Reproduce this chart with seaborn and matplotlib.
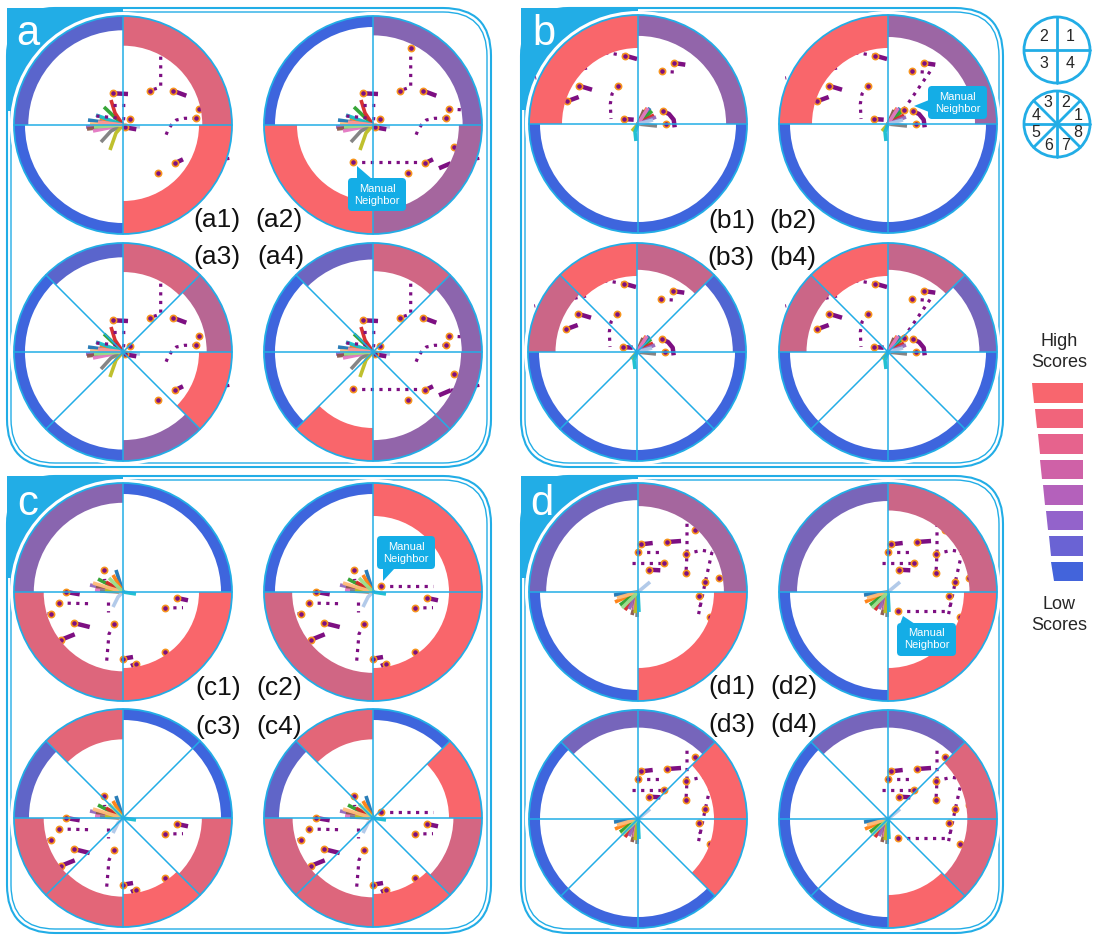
import numpy as np
import matplotlib
matplotlib.use("Agg")
import matplotlib.pyplot as plt
from matplotlib.patches import Wedge, Circle, FancyBboxPatch, Polygon, Rectangle
import seaborn as sns

sns.set_theme(style="white")
plt.rcParams["font.family"] = ["Liberation Sans", "DejaVu Sans"]

# ---------------------------------------------------------------- data
# sector scores (0 = low, 1 = high), counter-clockwise from east
scores_a = [[0.85, 0.15, 0.0, 1.0],
            [0.38, 0.0, 1.0, 0.55],
            [0.65, 0.82, 0.15, 0.0, 0.0, 0.02, 0.45, 1.0],
            [0.42, 0.78, 0.25, 0.0, 0.0, 1.0, 0.45, 0.45]]
scores_b = [[0.45, 1.0, 0.0, 0.0],
            [0.5, 1.0, 0.0, 0.0],
            [0.1, 0.72, 1.0, 0.75, 0.0, 0.0, 0.0, 0.0],
            [0.3, 0.72, 1.0, 0.75, 0.0, 0.0, 0.0, 0.0]]
scores_c = [[0.0, 0.4, 0.85, 1.0],
            [1.0, 0.0, 0.78, 1.0],
            [0.0, 0.0, 0.88, 0.18, 0.85, 0.88, 1.0, 0.87],
            [1.0, 0.0, 0.88, 0.18, 0.8, 0.85, 1.0, 0.8]]
scores_d = [[0.55, 0.28, 0.0, 1.0],
            [0.75, 0.32, 0.0, 1.0],
            [1.0, 0.3, 0.3, 0.0, 0.0, 0.0, 0.0, 1.0],
            [0.85, 0.3, 0.3, 0.0, 0.0, 0.0, 1.0, 0.85]]

# neighbour trajectories, offsets from the ego agent (x right, y down)
dotted_a = [[(37.7, -77), (37.7, -38), (26.7, -34.3)],
            [(76, -16), (92, -15), (110, -15)],
            [(72.7, -6.7), (61.7, -6.7), (53.3, -5), (48.3, 0), (45, 5), (41.7, 13.3)],
            [(-10, -20), (1.7, -20)],
            [(-26.7, -9), (7.3, -5.7)],
            [(77.7, 38.3), (106.7, 33.3)]]
solid_a = [[(50, -34.3), (63.3, -29.3)],
           [(51.7, 38.3), (60, 34.3)],
           [(-10, -31.7), (5, -31)],
           [(1.7, 2.3), (13.3, 4.3)],
           [(66, 43.3), (77.7, 38.3)]]
ends_a = [(37.7, -77), (26.7, -34.3), (50, -34.3), (76, -16), (72.7, -6.7), (51.7, 38.3),
          (35, 48.3), (-10, -31.7), (7.3, -5.7), (1.7, 2.3), (81, 21.7)]
manual_a = [(-19.7, 37.3), (49.3, 37.3)]

dotted_b = [[(-12.7, -68.3), (-29.3, -71), (-45, -70)],
            [(-51, -56), (-102.7, -46)],
            [(-20.3, -38.3), (-26, -30), (-27.7, -20), (-27, -5)],
            [(24, -52.7), (40.7, -51.7)]]
solid_b = [[(-12.7, -68.3), (-1, -65)],
           [(-59.3, -38.3), (-46, -34.3)],
           [(-71, -22.7), (-59.3, -27)],
           [(-14.3, -5), (-4.3, -4.3)],
           [(35.7, -61), (47.3, -59.3)],
           [(25, -12.7), (31, -10), (35.7, -4.3), (36.7, 3.3)]]
ends_b = [(-12.7, -68.3), (-59.3, -38.3), (-71, -22.7), (-20.3, -38.3), (-14.3, -5),
          (35.7, -61), (24, -52.7), (25, -12.7), (28.3, 0)]
manual_b = [(15.7, -14.3), (43.3, -54.3)]

dotted_c = [[(-19, -21.7), (-18.3, -11.7)],
            [(-64, 11), (-33.3, 11.7)],
            [(-72.3, 21.7), (-105, 21)],
            [(-9, 32.3), (-14, 42), (-16.7, 73.3)],
            [(-15, 10), (-15, 20)],
            [(41.7, 16), (60, 15.7)]]
solid_c = [[(-56.7, 0), (-43.3, 2.3)],
           [(-49.3, 31), (-33.3, 35)],
           [(-61.7, 47.7), (-48.3, 42.3)],
           [(0, 66.7), (10, 65)],
           [(13.3, 71.7), (8, 74)],
           [(54, 6), (65, 8.3)]]
ends_c = [(-19, -21.7), (-56.7, 0), (-64, 11), (-72.3, 21.7), (-49.3, 31), (-61.7, 47.7),
          (-9, 32.3), (0, 66.7), (13.3, 71.7), (41.7, 60), (54, 6), (41.7, 16)]
manual_c = [(8.3, -6), (60, -6)]

dotted_d = [[(49, -68.3), (49, -38.3), (48, -19.3)],
            [(0, -40), (20.7, -40)],
            [(-6, -29), (25.7, -29)],
            [(48, -38.3), (64, -41.7), (74, -40)],
            [(74, -40), (67.3, -10), (60, 25)],
            [(60.7, 4.3), (62.3, 15)]]
solid_d = [[(3.3, -47.7), (14.7, -49)],
           [(29, -50), (43, -51)],
           [(10.7, -22.3), (22.3, -21.7)]]
ends_d = [(3.3, -47.7), (29, -50), (48, -19.3), (57.3, -61.7), (0, -40), (25.7, -29),
          (10.7, -22.3), (48, -38.3), (67.3, -10), (60.7, 4.3), (81.3, -14.3), (71.7, 25)]
manual_d = [(10, 19.3), (60.7, 19.3)]

# predicted ego futures (polylines starting at the ego agent)
fan_a = [[(0, 0), (-35, -5)], [(0, 0), (-23, -7)], [(0, 0), (-19, -18)],
         [(0, 0), (-8, -12), (-12, -25)], [(0, 0), (-37, 2)], [(0, 0), (-36, 4)],
         [(0, 0), (-30, 6)], [(0, 0), (-12, 6), (-22, 17)],
         [(0, 0), (-7, 8), (-13, 25)], [(0, 0), (-27, -10)], [(0, 0), (17, 2)],
         [(0, 0), (-33, -1)], [(0, 0), (-29, 2)], [(0, 0), (-25, -3)]]
fan_b = [[(0, 0), (12, -16)], [(0, 0), (9, -16)], [(0, 0), (14, -13)], [(0, 0), (16, -9)],
         [(0, 0), (18, -7)], [(0, 0), (6, -14)], [(0, 0), (10, -16)], [(0, 0), (19, 2)],
         [(0, 0), (-6, 7)], [(0, 0), (-3, 8), (-2, 17)], [(0, 0), (15, -4)]]
fan_c = [[(0, 0), (-7, -22)], [(0, 0), (-10, -17)], [(0, 0), (-25, -13)], [(0, 0), (-17, -10)],
         [(0, 0), (-33, -7)], [(0, 0), (-27, -5)], [(0, 0), (-28, -2)], [(0, 0), (-23, -1)],
         [(0, 0), (-18, -2)], [(0, 0), (13, 2)], [(0, 0), (-5, 5), (-10, 15)],
         [(0, 0), (-30, -9)], [(0, 0), (-14, -14)]]
fan_d = [[(0, 0), (-24, 3)], [(0, 0), (-23, 10)], [(0, 0), (-18, 13)], [(0, 0), (-13, 18)],
         [(0, 0), (-9, 17)], [(0, 0), (-6, 23)], [(0, 0), (-4, 18)], [(0, 0), (-1, 25)],
         [(0, 0), (-3, 21)], [(0, 0), (1, 20)], [(0, 0), (12, -10)], [(0, 0), (-21, 6)],
         [(0, 0), (-16, 16)]]

panel_letters = ["a", "b", "c", "d"]
legend_levels = [1.0, 6 / 7, 5 / 7, 4 / 7, 3 / 7, 2 / 7, 1 / 7, 0.0]
quad_numbers = ["1", "2", "3", "4"]
oct_numbers = ["1", "2", "3", "4", "5", "6", "7", "8"]

# ---------------------------------------------------------------- style
HIGH = "#f9666b"
LOW = "#3e65dd"
CYAN = "#22ade6"
PURPLE = "#7d0f82"
ORANGE = "#f7941d"
CALLOUT = "#14ade6"
ramp = sns.blend_palette([LOW, HIGH], n_colors=101)
key_ramp = sns.blend_palette(["#4364db", "#8a63cf", "#c460b4", "#ec6386", "#f8666e"], n_colors=101)
fan_colors = sns.color_palette("tab10") + sns.color_palette("tab20")[1::2][:4]

R = 109.0


def score_color(s, pal=ramp):
    return pal[int(round(s * 100))]


fig = plt.figure(figsize=(10.99, 9.35), dpi=100)
ax = fig.add_axes([0, 0, 1, 1])
ax.set_xlim(0, 1099)
ax.set_ylim(935, 0)
ax.axis("off")


def draw_callout(box, apex, base):
    x0, y0, x1, y1 = box
    ax.add_patch(FancyBboxPatch((x0, y0), x1 - x0, y1 - y0,
                                boxstyle="round,pad=0,rounding_size=4",
                                fc=CALLOUT, ec="none", zorder=8))
    ax.add_patch(Polygon([base[0], apex, base[1]], closed=True, fc=CALLOUT, ec="none", zorder=8))
    ax.text((x0 + x1) / 2, (y0 + y1) / 2, "Manual\nNeighbor", color="white", fontsize=8,
            ha="center", va="center", linespacing=1.25, zorder=9)


def draw_scene(cx, cy, scores, dotted, solid, ends, fan, manual=None):
    ax.add_patch(Circle((cx, cy), R + 4, fc="white", ec="none", zorder=2))
    # predicted ego futures
    for k, line in enumerate(fan):
        arr = np.array(line)
        ax.plot(cx + arr[:, 0], cy + arr[:, 1], color=fan_colors[k % len(fan_colors)],
                lw=2.6, solid_capstyle="butt", alpha=0.95, zorder=3)
    # neighbour histories
    paths = list(dotted) + ([manual] if manual is not None else [])
    for line in paths:
        arr = np.array(line)
        ax.plot(cx + arr[:, 0], cy + arr[:, 1], color=PURPLE, lw=2.3,
                linestyle=(0, (1.0, 1.7)), dash_capstyle="butt", zorder=3.2)
    for line in solid:
        arr = np.array(line)
        ax.plot(cx + arr[:, 0], cy + arr[:, 1], color=PURPLE, lw=3.2,
                solid_capstyle="butt", zorder=3.3)
    pts = np.array(list(ends) + ([manual[0]] if manual is not None else []))
    sns.scatterplot(x=cx + pts[:, 0], y=cy + pts[:, 1], ax=ax, s=20, color=PURPLE,
                    edgecolor=ORANGE, linewidth=1.2, zorder=3.5, legend=False)
    # score ring
    n = len(scores)
    step = 360.0 / n
    for i, s in enumerate(scores):
        t1, t2 = step * i, step * (i + 1)
        width = 11 + 22 * s
        # y axis points down, so screen angles are mirrored
        ax.add_patch(Wedge((cx, cy), R, -t2, -t1, width=width, fc=score_color(s),
                           ec="none", zorder=4))
    for i in range(n):
        a = np.deg2rad(step * i)
        ax.plot([cx, cx + R * np.cos(a)], [cy, cy - R * np.sin(a)], color=CYAN,
                lw=1.1, zorder=5)
    ax.add_patch(Circle((cx, cy), R, fc="none", ec=CYAN, lw=1.3, zorder=6))


panels = [
    dict(box=(7, 8, 491, 467), centers=[(123, 125), (373, 125), (123, 352), (373, 352)],
         scores=scores_a, dotted=dotted_a, solid=solid_a, ends=ends_a, fan=fan_a,
         manual=manual_a, labels=[(217, 220), (279, 220), (217, 257), (281, 257)],
         letter=(28, 45),
         callout=((348, 178, 406, 211), (357, 166), [(357, 179), (372, 179)])),
    dict(box=(521, 8, 1003, 467), centers=[(638, 124), (888, 124), (637, 352), (888, 352)],
         scores=scores_b, dotted=dotted_b, solid=solid_b, ends=ends_b, fan=fan_b,
         manual=manual_b, labels=[(732, 221), (793, 221), (731, 258), (793, 258)],
         letter=(544, 45),
         callout=((928, 86, 987, 119), (914, 106), [(929, 100), (929, 112)])),
    dict(box=(7, 476, 491, 933), centers=[(123, 592), (373, 592), (123, 818), (373, 818)],
         scores=scores_c, dotted=dotted_c, solid=solid_c, ends=ends_c, fan=fan_c,
         manual=manual_c, labels=[(218, 688), (279, 688), (218, 727), (279, 727)],
         letter=(28, 515),
         callout=((377, 536, 435, 569), (383, 581), [(383, 568), (395, 568)])),
    dict(box=(521, 476, 1003, 933), centers=[(638, 592), (888, 592), (638, 819), (888, 819)],
         scores=scores_d, dotted=dotted_d, solid=solid_d, ends=ends_d, fan=fan_d,
         manual=manual_d, labels=[(732, 687), (794, 687), (732, 725), (794, 725)],
         letter=(542, 515),
         callout=((897, 623, 956, 656), (903, 616), [(900, 624), (915, 624)])),
]

for p, letter in zip(panels, panel_letters):
    x0, y0, x1, y1 = p["box"]
    # double outline of the panel frame
    ax.add_patch(FancyBboxPatch((x0, y0), x1 - x0, y1 - y0,
                                boxstyle="round,pad=0,rounding_size=48",
                                fc="none", ec=CYAN, lw=1.5, zorder=1))
    ax.add_patch(FancyBboxPatch((x0 + 4, y0 + 4), x1 - x0 - 8, y1 - y0 - 8,
                                boxstyle="round,pad=0,rounding_size=44",
                                fc="none", ec=CYAN, lw=1.0, zorder=1))
    c0 = p["centers"][0]
    ax.add_patch(Rectangle((x0, y0), c0[0] - x0, c0[1] - 14 - y0, fc=CYAN, ec="none", zorder=1.5))
    for k, (cx, cy) in enumerate(p["centers"]):
        draw_scene(cx, cy, p["scores"][k], p["dotted"], p["solid"], p["ends"], p["fan"],
                   manual=p["manual"] if k in (1, 3) else None)
    ax.text(p["letter"][0], p["letter"][1], letter, color="white", fontsize=30,
            ha="center", va="baseline", zorder=7)
    for k, (lx, ly) in enumerate(p["labels"]):
        ax.text(lx, ly, f"({letter}{k + 1})", fontsize=19, ha="center", va="center",
                color="#111111", zorder=7)
    box, apex, base = p["callout"]
    draw_callout(box, apex, base)

# ---------------------------------------------------------------- sector key
for (kx, ky), labels in [((1057, 50), quad_numbers), ((1057, 124), oct_numbers)]:
    ax.add_patch(Circle((kx, ky), 33, fc="white", ec=CYAN, lw=2.0, zorder=5))
    n = len(labels)
    for i in range(n):
        a = np.deg2rad(360.0 / n * i)
        ax.plot([kx, kx + 33 * np.cos(a)], [ky, ky - 33 * np.sin(a)], color=CYAN, lw=2.0, zorder=5)
    rr = 19 if n == 4 else 23
    for i, lab in enumerate(labels):
        a = np.deg2rad(360.0 / n * (i + 0.5))
        ax.text(kx + rr * np.cos(a), ky - rr * np.sin(a), lab, fontsize=11.5,
                ha="center", va="center", zorder=6)

# ---------------------------------------------------------------- score legend
top, bottom = 383.0, 581.0
left_top, left_bottom, right = 1032.0, 1053.5, 1083.0
pitch = (bottom - top + 6) / len(legend_levels)
for i, s in enumerate(legend_levels):
    ya = top + i * pitch
    yb = ya + pitch - 6
    la = left_top + (left_bottom - left_top) * (ya - top) / (bottom - top)
    lb = left_top + (left_bottom - left_top) * (yb - top) / (bottom - top)
    ax.add_patch(Polygon([(la, ya), (right, ya), (right, yb), (lb, yb)], closed=True,
                         fc=score_color(s, key_ramp), ec="none", zorder=5))
ax.text(1059, 352, "High\nScores", fontsize=13, ha="center", va="center", linespacing=1.35)
ax.text(1059, 615, "Low\nScores", fontsize=13, ha="center", va="center", linespacing=1.35)

fig.savefig("out.png", dpi=100)
